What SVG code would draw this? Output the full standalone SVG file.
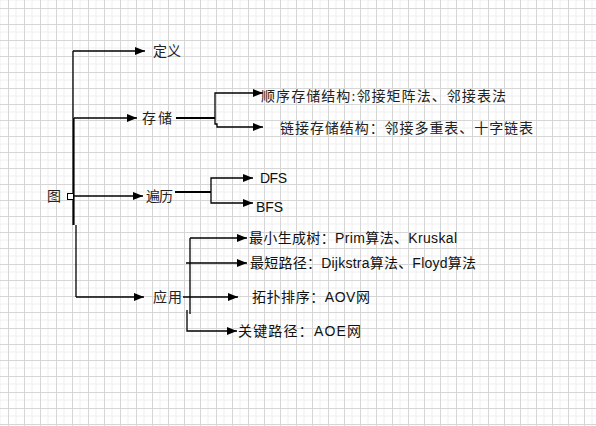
<svg xmlns="http://www.w3.org/2000/svg" width="596" height="426" viewBox="0 0 596 426">
<style>
.c{fill:none;stroke:#000;stroke-width:1.3}
.t{stroke-width:2.2}
.z{font-family:"Liberation Serif","Noto Sans CJK SC",serif;font-size:14px;fill:#222}
.e{font-family:"Liberation Sans","Noto Sans CJK SC",sans-serif;font-size:14px;fill:#111}
</style>
<defs>
<pattern id="g" width="16" height="16" patternUnits="userSpaceOnUse" x="8" y="8">
<path d="M8 0V16M0 8H16" stroke="#eeeeee" stroke-width="1"/>
<path d="M0.5 0V16M0 0.5H16" stroke="#d6d6d6" stroke-width="1"/>
</pattern>
<marker id="a" markerWidth="10" markerHeight="8" refX="10" refY="4" orient="auto" markerUnits="userSpaceOnUse">
<path d="M0 0L10 4L0 8Z" fill="#000"/>
</marker>
</defs>
<rect width="596" height="426" fill="#fff"/>
<rect width="596" height="426" fill="url(#g)"/>
<g id="connectors">
<path class="c" d="M73 51V118"/>
<path class="c t" d="M73.5 118V225"/>
<path class="c" d="M76 225V297"/>
<path class="c" d="M73 51H145" marker-end="url(#a)"/>
<path class="c" d="M74 118H137" marker-end="url(#a)"/>
<path class="c" d="M74 196H143" marker-end="url(#a)"/>
<path class="c" d="M76 297H144" marker-end="url(#a)"/>
<path class="c t" d="M176 118H215"/>
<path class="c" d="M215 118V93H263" marker-end="url(#a)"/>
<path class="c" d="M215 118V124H217V127H263" marker-end="url(#a)"/>
<path class="c t" d="M175 192H211"/>
<path class="c" d="M211 192V178H253" marker-end="url(#a)"/>
<path class="c" d="M211 192V203H253" marker-end="url(#a)"/>
<path class="c" d="M190 238H247" marker-end="url(#a)"/>
<path class="c" d="M190 238V314"/>
<path class="c" d="M186 263H247" marker-end="url(#a)"/>
<path class="c" d="M183 297H238" marker-end="url(#a)"/>
<path class="c" d="M187 310V331H237" marker-end="url(#a)"/>
</g>
<g id="node-tu">
<text class="z" x="47" y="201" textLength="15">图</text>
<rect x="67.5" y="193.5" width="6" height="6" fill="#fff" stroke="#000" stroke-width="1"/>
</g>
<g id="node-dingyi"><text class="z" x="153" y="56" textLength="28">定义</text></g>
<g id="node-cunchu"><text class="z" x="142" y="123" textLength="30">存储</text></g>
<g id="node-shunxu"><text class="z" x="261" y="101" textLength="245">顺序存储结构:邻接矩阵法、邻接表法</text></g>
<g id="node-lianjie"><text class="z" x="280" y="133" textLength="253">链接存储结构：邻接多重表、十字链表</text></g>
<g id="node-bianli"><text class="z" x="146" y="201" textLength="27">遍历</text></g>
<g id="node-dfs"><text class="e" x="260" y="183" textLength="27">DFS</text></g>
<g id="node-bfs"><text class="e" x="256" y="212" textLength="27">BFS</text></g>
<g id="node-yingyong"><text class="z" x="153" y="302" textLength="29">应用</text></g>
<g id="node-zuixiao"><text class="e" x="249" y="243" textLength="208">最小生成树：Prim算法、Kruskal</text></g>
<g id="node-zuiduan"><text class="e" x="250" y="268" textLength="226">最短路径：Dijkstra算法、Floyd算法</text></g>
<g id="node-tuopu"><text class="e" x="252" y="302" textLength="118">拓扑排序：AOV网</text></g>
<g id="node-guanjian"><text class="e" x="238" y="336" textLength="123">关键路径：AOE网</text></g>
</svg>
